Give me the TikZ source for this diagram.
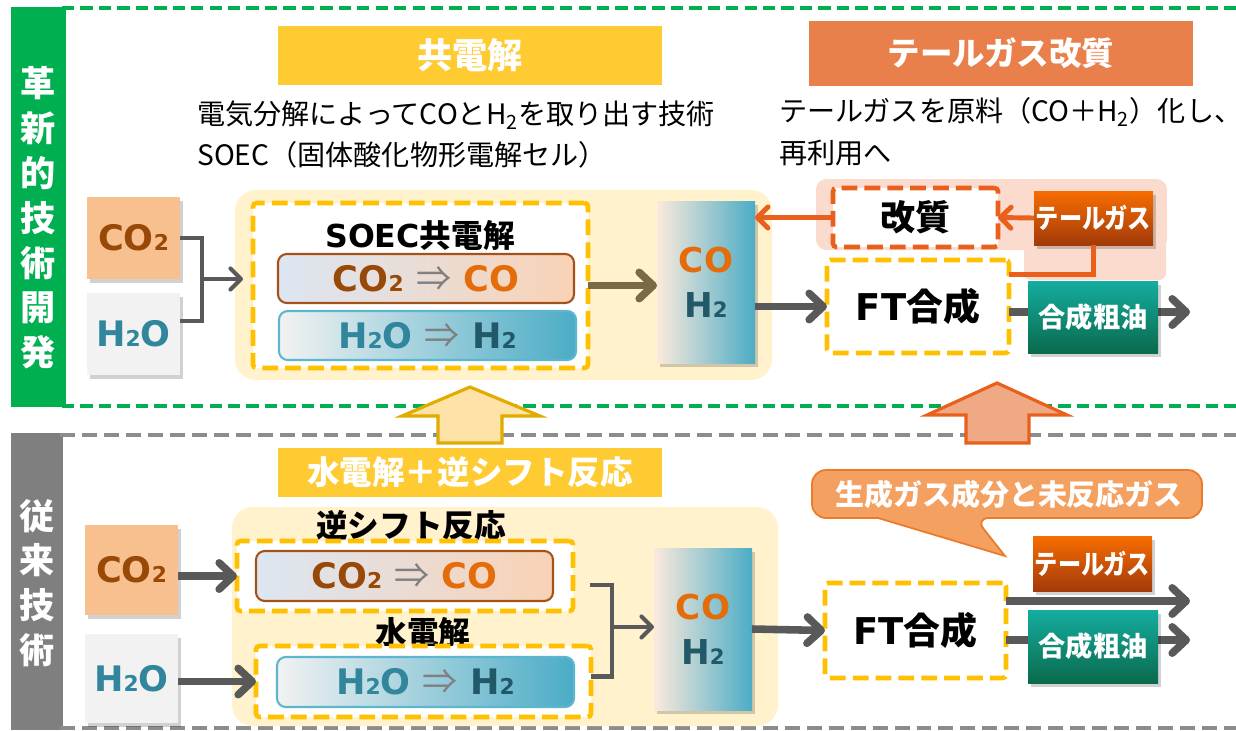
\documentclass[tikz,border=0pt]{standalone}
\usepackage{graphicx}
\usepackage{fontspec}
\setmainfont{Noto Sans CJK JP}
\newfontfamily\lat{DejaVu Sans}
\usetikzlibrary{arrows.meta,shadows,calc}
\definecolor{cgreen}{HTML}{00B050}
\definecolor{cgraybar}{HTML}{7F7F7F}
\definecolor{cgraydash}{HTML}{8C8C8C}
\definecolor{cyhead}{HTML}{FFCB33}
\definecolor{cohead}{HTML}{E9804B}
\definecolor{cpaley}{HTML}{FFF2CC}
\definecolor{cydash}{HTML}{FFC000}
\definecolor{cpeach}{HTML}{F9C08F}
\definecolor{clgray}{HTML}{F2F2F2}
\definecolor{cbrown}{HTML}{984807}
\definecolor{corg}{HTML}{E46C0A}
\definecolor{cteal}{HTML}{31859C}
\definecolor{cdteal}{HTML}{215968}
\definecolor{carrow}{HTML}{595959}
\definecolor{colive}{HTML}{7A6A45}
\definecolor{cpink}{HTML}{FADBCD}
\definecolor{coline}{HTML}{E8601C}
\definecolor{ccallout}{HTML}{F4A060}
\definecolor{ccalloutb}{HTML}{EC7A2A}
\definecolor{cupy}{HTML}{FFE2A6}
\definecolor{cupyb}{HTML}{E0AC00}
\definecolor{cupo}{HTML}{F0A985}
\definecolor{rowAl}{HTML}{DCE6F2}
\definecolor{rowAr}{HTML}{F9D2B6}
\definecolor{rowAb}{HTML}{A5521A}
\definecolor{rowBr}{HTML}{4BACC6}
\definecolor{rowBb}{HTML}{5DB6CF}
\definecolor{colL}{HTML}{FBEADC}
\definecolor{tgtop}{HTML}{F76D00}
\definecolor{tgbot}{HTML}{A33A0A}
\definecolor{oiltop}{HTML}{14ADA0}
\definecolor{oilbot}{HTML}{0A6A4C}
\definecolor{cimpl}{HTML}{808080}
\newcommand\subtwo{\scalebox{0.62}{2}}
\newcommand\impl{{\rmfamily\mdseries\color{cimpl}⇒}}
\tikzset{
  bx/.style args={#1/#2/#3/#4}{minimum width={(#3-#1)*0.02cm}, minimum height={(#4-#2)*0.02cm},
     at={({(#1+#3)/2},{(#2+#4)/2})}, inner sep=0pt, outer sep=0pt},
  headY/.style={fill=cyhead, text=white, font=\bfseries\fontsize{20}{22}\selectfont},
  headYb/.style={fill=cyhead, text=white, font=\bfseries\fontsize{18.5}{22}\selectfont},
  headO/.style={fill=cohead, text=white, font=\bfseries\fontsize{18.5}{22}\selectfont},
  sidetext/.style={text=white, align=center, inner sep=0pt, font=\bfseries\fontsize{20}{25.5}\selectfont},
  paleBg/.style={fill=cpaley, rounded corners=12pt},
  ydash/.style={draw=cydash, line width=2.6pt, dash pattern=on 9pt off 4pt, rounded corners=2pt, fill=white},
  odash/.style={draw=coline, line width=2.6pt, dash pattern=on 9pt off 4pt, rounded corners=2pt, fill=white},
  rowA/.style={draw=rowAb, line width=1.2pt, rounded corners=5pt, left color=rowAl, right color=rowAr, font=\lat\bfseries\fontsize{20}{24}\selectfont},
  rowB/.style={draw=rowBb, line width=1.2pt, rounded corners=5pt, left color=clgray, right color=rowBr, font=\lat\bfseries\fontsize{20}{24}\selectfont},
  shad/.style={drop shadow={shadow xshift=1.8pt, shadow yshift=-2.2pt, opacity=0.18, fill=black}},
  inbox/.style={shad, font=\lat\bfseries\fontsize{20}{24}\selectfont},
  colbox/.style={shad, left color=colL, right color=rowBr, align=center, font=\lat\bfseries\fontsize{19.5}{25.5}\selectfont},
  tgbox/.style={shad, top color=tgtop, bottom color=tgbot, text=white, font=\bfseries\fontsize{15.5}{18}\selectfont},
  oilbox/.style={shad, top color=oiltop, bottom color=oilbot, text=white, font=\bfseries\fontsize{15.5}{18}\selectfont},
  lbl/.style={inner sep=0pt, font=\bfseries\fontsize{18}{20}\selectfont},
  bigtxt/.style={font=\bfseries\fontsize{21}{24}\selectfont},
  desc/.style={anchor=west, inner sep=0pt, font=\fontsize{16}{19}\selectfont},
  garrow/.style={draw=carrow, line width=4.3pt, -{Straight Barb[length=8pt,width=15pt,round]}},
  olarrow/.style={draw=colive, line width=4.3pt, -{Straight Barb[length=8pt,width=15pt,round]}},
  gthin/.style={draw=carrow, line width=2.3pt},
  gthinarrow/.style={draw=carrow, line width=2.3pt, -{Straight Barb[length=6pt,width=12pt,round]}},
  oarrow/.style={draw=coline, line width=2.8pt, -{Straight Barb[length=6pt,width=12pt,round]}},
  oline/.style={draw=coline, line width=2.3pt},
  gdash/.style={draw=cgreen, line width=2.2pt, dash pattern=on 7pt off 3.5pt},
  kdash/.style={draw=cgraydash, line width=2.2pt, dash pattern=on 8.5pt off 4pt},
  calloutshape/.style={draw=ccalloutb, fill=ccallout, line width=1pt},
  callouttext/.style={text=white, font=\bfseries\fontsize{16.5}{19}\selectfont},
  upY/.style={fill=cupy, draw=cupyb, line width=1.8pt},
  upO/.style={fill=cupo, draw=coline, line width=1.8pt},
}
\begin{document}
\begin{tikzpicture}[x=0.02cm,y=-0.02cm]
\useasboundingbox (0,0) rectangle (1236,730);
\clip (0,0) rectangle (1236,730);
\fill[white] (0,0) rectangle (1236,730);

% ===== top section =====
\node[bx=11/7/66/407, fill=cgreen] (gbar) {};
\node[sidetext] (gtext) at (38,218) {革\\新\\的\\技\\術\\開\\発};
\draw[gdash] (62,8) -- (1236,8);
\draw[gdash] (62,406) -- (1236,406);

\node[bx=278/26/662/85, headY] (h1) {共電解};
\node[bx=809/21/1193/86, headO] (h2) {テールガス改質};
\node[desc] (d1) at (197,115) {電気分解によってCOとH\textsubscript{2}を取り出す技術};
\node[desc] (d2) at (197,155) {SOEC（固体酸化物形電解セル）};
\node[desc] (d3) at (779,112) {テールガスを原料（CO＋H\textsubscript{2}）化し、};
\node[desc] (d4) at (779,153) {再利用へ};

\node[bx=235/190/772/380, paleBg] (soecbg) {};
\node[bx=253/203/588/368, ydash] (soecdb) {};
\node[lbl] (soect) at (420,235) {{\lat SOEC}共電解};
\node[bx=278/254/574/303, rowA] (r1) {{\color{cbrown}CO\subtwo} \impl{} {\color{corg}CO}};
\node[bx=279/311/576/360, rowB] (r2) {{\color{cteal}H\subtwo O} \impl{} {\color{cdteal}H\subtwo}};

\node[bx=87/197/180/279, inbox, fill=cpeach, text=cbrown] (co2t) {CO\subtwo};
\node[bx=87/293/180/375, inbox, fill=clgray, text=cteal] (h2ot) {H\subtwo O};
\node[bx=657/201/755/363, colbox] (coh2t) {{\color{corg}CO}\\{\color{cdteal}H\subtwo}};

\node[bx=1024/240/1166/280, fill=cpink, rounded corners=4pt] (pinkbg2) {};
\node[bx=816/179/1167/250, fill=cpink, rounded corners=6pt] (pinkbg) {};
\node[bx=833/188/998/247, odash, font=\bfseries\fontsize{20}{22}\selectfont] (ks) {改質};
\node[bx=1034/191/1153/245, tgbox] (tg1) {\scalebox{0.85}[1]{テールガス}};
\node[bx=827/260/1009/353, ydash, bigtxt] (ft1) {{\lat FT}合成};

\coordinate (j1) at (202,279);
\draw[gthin] (co2t.east) -| (j1);
\draw[gthin] ([yshift=0.26cm]h2ot.east) -| (j1);
\draw[gthinarrow] (j1) -- ($(j1 -| soecbg.west)+(8,0)$);
\draw[olarrow] (soecdb.east) -- (coh2t.west |- soecdb.east);
\draw[garrow] (coh2t.east |- ft1.west) -- (ft1.west);
\draw[oarrow] (tg1.west) -- (ks.east);
\draw[oarrow] (ks.west) -- (coh2t.east |- ks.west);
\draw[oline] (tg1.south) |- ($(ft1.east)+(0,-32)$);
\coordinate (e0) at (1190,312);
\draw[garrow] (ft1.east |- e0) -- (e0);
\node[bx=1028/281/1158/353, oilbox] (oil1) {合成粗油};

% ===== bottom section =====
\node[bx=11/433/63/730, fill=cgraybar] (kbar) {};
\node[sidetext] (ktext) at (37,583) {従\\来\\技\\術};
\draw[kdash] (60,435) -- (1236,435);
\draw[kdash] (60,728) -- (1236,728);

\node[bx=278/448/662/497, headYb] (h3) {水電解＋逆シフト反応};
\node[bx=232/507/778/726, paleBg] (revbg) {};
\node[lbl] (revt) at (411,525) {逆シフト反応};
\node[bx=237/541/573/611, ydash] (db1) {};
\node[bx=256/551/553/601, rowA] (r3) {{\color{cbrown}CO\subtwo} \impl{} {\color{corg}CO}};
\node[lbl] (wet) at (423,632) {水電解};
\node[bx=256/646/591/717, ydash] (db2) {};
\node[bx=277/657/574/707, rowB] (r4) {{\color{cteal}H\subtwo O} \impl{} {\color{cdteal}H\subtwo}};

\node[bx=85/525/178/615, inbox, fill=cpeach, text=cbrown] (co2b) {CO\subtwo};
\node[bx=85/634/178/723, inbox, fill=clgray, text=cteal] (h2ob) {H\subtwo O};
\node[bx=654/548/752/710, colbox] (coh2b) {{\color{corg}CO}\\{\color{cdteal}H\subtwo}};
\node[bx=825/583/1006/678, ydash, bigtxt] (ft2) {{\lat FT}合成};

\draw[garrow] (co2b.east |- db1.west) -- (db1.west);
\draw[garrow] (h2ob.east |- db2.west) -- (db2.west);
\coordinate (j2) at (612,627);
\draw[gthin] ($(db1.east)+(17,9)$) -| (j2);
\draw[gthin] ($(db2.east)+(0,-5)$) -| (j2);
\draw[gthinarrow] (j2) -- (coh2b.west |- j2);
\draw[garrow] (coh2b.east) -- (ft2.west);
\coordinate (e1) at (1190,601);
\coordinate (e2) at (1190,640);
\draw[garrow] (ft2.east |- e1) -- (e1);
\draw[garrow] (ft2.east |- e2) -- (e2);
\node[bx=1033/536/1152/591, tgbox] (tg2) {\scalebox{0.85}[1]{テールガス}};
\node[bx=1028/610/1158/683, oilbox] (oil2) {合成粗油};

% callout
\path[calloutshape, rounded corners=8pt] (812,470) -- (1202,470) -- (1202,518) -- (975,518) [sharp corners] -- (1005,556) -- (878,518) [rounded corners=8pt] -- (812,518) -- cycle;
\node[callouttext] (cot) at (1009,494) {生成ガス成分と未反応ガス};

% up arrows
\path[upY] (470,387) -- (540,416) -- (502,416) -- (502,443) -- (438,443) -- (438,416) -- (402,416) -- cycle;
\path[upO] (997,383) -- (1067,415) -- (1029,415) -- (1029,443) -- (966,443) -- (966,415) -- (927,415) -- cycle;
\end{tikzpicture}
\end{document}
